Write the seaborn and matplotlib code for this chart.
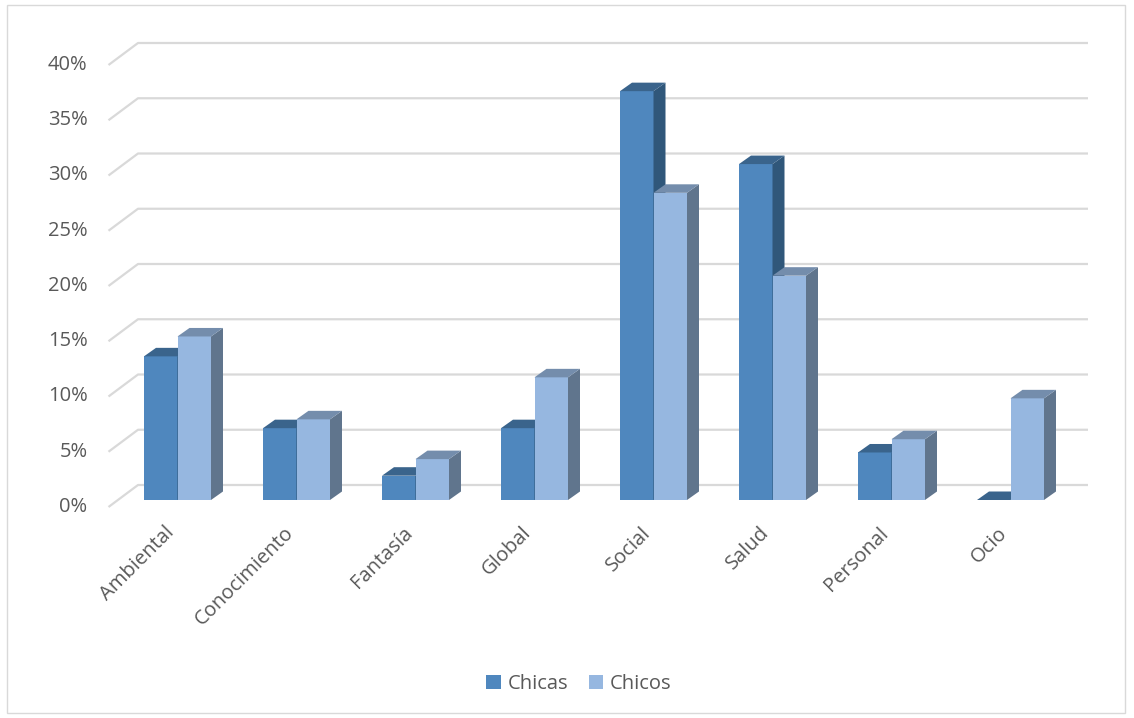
import matplotlib
matplotlib.use("Agg")
import matplotlib.pyplot as plt
import seaborn as sns
import pandas as pd
from matplotlib.patches import Polygon, Rectangle, Patch

# ---- data ----
categories = ["Ambiental", "Conocimiento", "Fantasía", "Global", "Social", "Salud", "Personal", "Ocio"]
chicas = [13.0, 6.5, 2.2, 6.5, 37.0, 30.4, 4.3, 0.0]
chicos = [14.8, 7.3, 3.7, 11.1, 27.8, 20.3, 5.5, 9.2]
series_names = ["Chicas", "Chicos"]
y_ticks = [0, 5, 10, 15, 20, 25, 30, 35, 40]
y_tick_labels = [f"{v}%" for v in y_ticks]

df = pd.DataFrame({
    "categoria": categories * 2,
    "valor": chicas + chicos,
    "sexo": [series_names[0]] * len(categories) + [series_names[1]] * len(categories),
})

# ---- style ----
sns.set_style("white")
plt.rcParams["font.family"] = ["Open Sans", "DejaVu Sans"]
TXT = "#595959"
GRID = "#D9D9D9"
front_cols = ["#4F87BE", "#96B7E0"]
top_cols = ["#3A648C", "#748DAC"]
side_cols = ["#30577A", "#60758D"]

W, H = 1134, 718
fig = plt.figure(figsize=(W / 100, H / 100), dpi=100)
# bar-front plane: x [-0.5, 7.5] -> px 118..1070 ; y [0, 40] -> px 500..58
x0, x1 = 118, 1070
y0, y1 = 500, 58
ax = fig.add_axes([x0 / W, (H - y0) / H, (x1 - x0) / W, (y0 - y1) / H])

sns.barplot(data=df, x="categoria", y="valor", hue="sexo", order=categories,
            hue_order=series_names, palette=front_cols, saturation=1,
            width=0.563, gap=0, legend=False, ax=ax, linewidth=0)

ax.set_xlim(-0.5, 7.5)
ax.set_ylim(0, 40)
ax.set_axis_off()

px_x = (x1 - x0) / 8.0       # px per category unit
px_y = (y0 - y1) / 40.0      # px per percent

def dx(p):
    return p / px_x

def dy(p):
    return p / px_y

# offsets (in px) relative to bar-front plane
fx, fy = -9.5, -7.0     # front edge of the wall (down-left)
bx, by = 20.0, 15.0     # back wall (up-right)
dbx, dby = 12.0, 8.5    # bar depth

# gridlines on back wall with diagonal on side wall
for v in y_ticks:
    xs = [-0.5 + dx(fx), -0.5 + dx(bx), 7.5 + dx(bx - 2)]
    ys = [v + dy(fy), v + dy(by), v + dy(by)]
    ax.plot(xs, ys, color=GRID, lw=1.6, zorder=0.5, clip_on=False,
            solid_capstyle="butt")

# 3D faces for bars
for si, cont in enumerate(ax.containers):
    for p in cont.patches:
        p.set_zorder(2 + si)
        p.set_clip_on(False)
        xl = p.get_x()
        w = p.get_width()
        h = p.get_height()
        xr = xl + w
        ox, oy = dx(dbx), dy(dby)
        side = Polygon([(xr, 0), (xr + ox, oy), (xr + ox, h + oy), (xr, h)],
                       closed=True, facecolor=side_cols[si], edgecolor="none",
                       zorder=2.1 + si, clip_on=False)
        top = Polygon([(xl, h), (xl + ox, h + oy), (xr + ox, h + oy), (xr, h)],
                      closed=True, facecolor=top_cols[si], edgecolor="none",
                      zorder=2.2 + si, clip_on=False)
        ax.add_patch(side)
        ax.add_patch(top)

# y tick labels
for v, lab in zip(y_ticks, y_tick_labels):
    ax.text(-0.5 + dx(fx - 21), v + dy(fy), lab, ha="right", va="center",
            fontsize=14.5, color=TXT, clip_on=False)

# x tick labels (rotated 45)
for i, c in enumerate(categories):
    ax.text(i - dx(6), dy(-30), c, rotation=45, rotation_mode="anchor",
            ha="right", va="center", fontsize=14.5, color=TXT, clip_on=False)

# legend
handles = [Patch(facecolor=front_cols[0], edgecolor="none", label=series_names[0]),
           Patch(facecolor=front_cols[1], edgecolor="none", label=series_names[1])]
leg = fig.legend(handles=handles, loc="center", bbox_to_anchor=(579 / W, 1 - 684 / H),
                 ncol=2, frameon=False, fontsize=14.5, handlelength=0.72,
                 handleheight=0.72, handletextpad=0.35, columnspacing=1.0)
for t in leg.get_texts():
    t.set_color(TXT)

# chart border
fig.patches.append(Rectangle((7 / W, 5 / H), (1125 - 7) / W, (713 - 5) / H,
                             transform=fig.transFigure, fill=False,
                             edgecolor=GRID, lw=1.0))

fig.savefig("out.png", dpi=100, facecolor="white")
